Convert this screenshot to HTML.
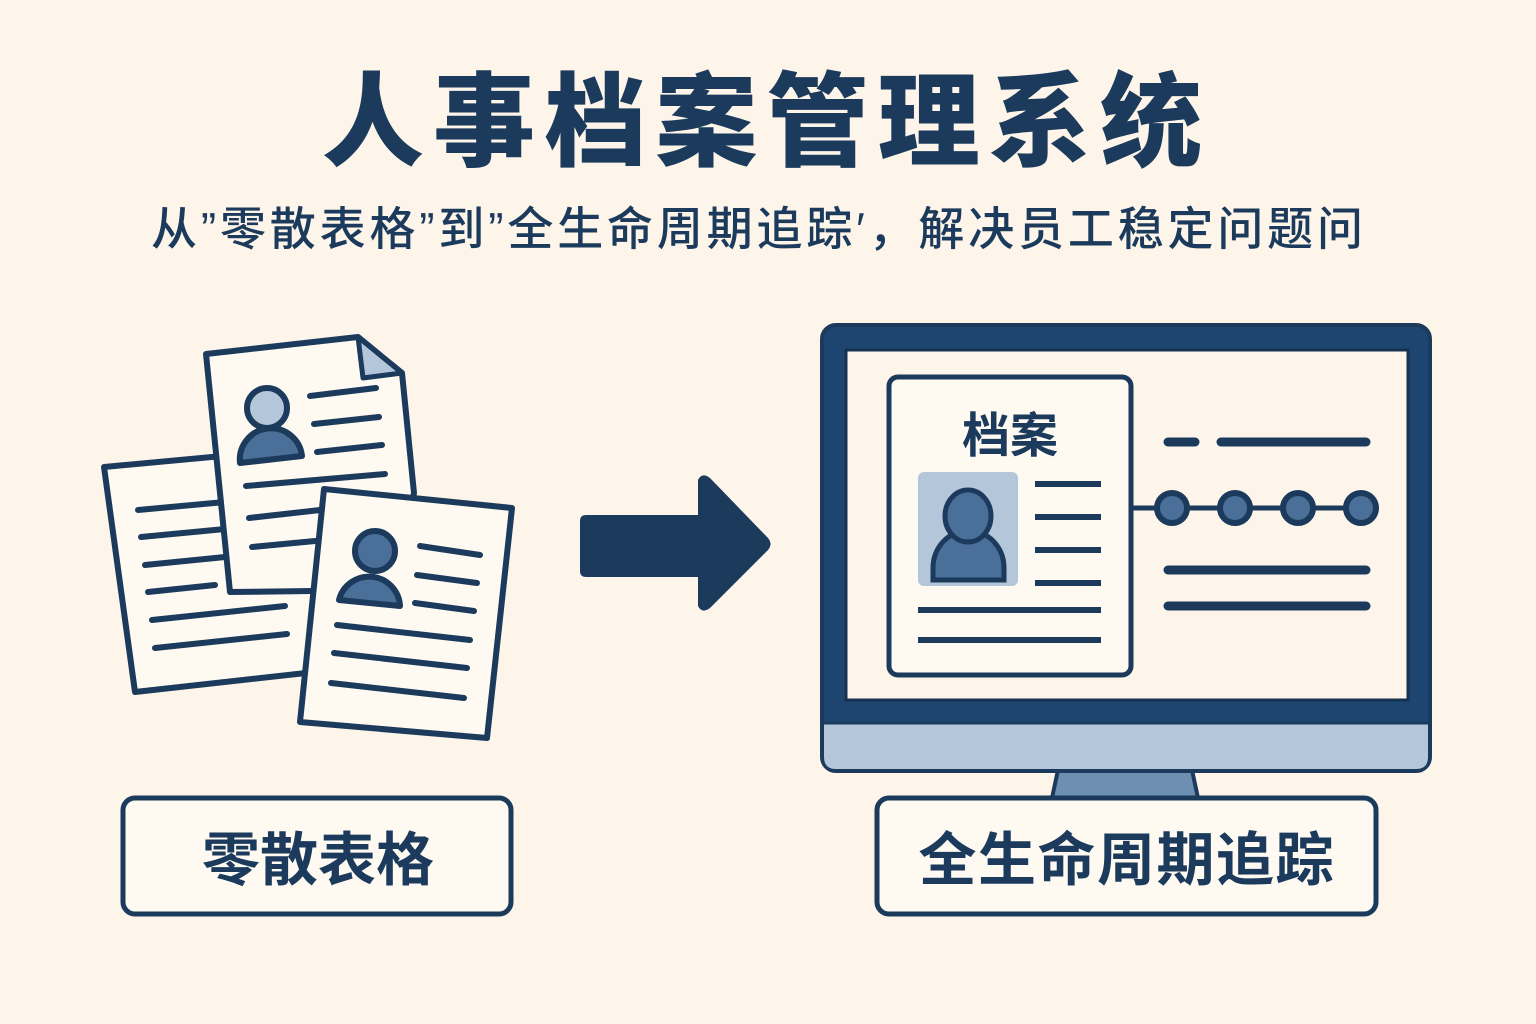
<!DOCTYPE html>
<html><head><meta charset="utf-8"><style>
html,body{margin:0;padding:0;background:#fdf5ea;}
svg{display:block;}
text{font-family:"Liberation Sans","Noto Sans CJK SC",sans-serif;fill:#1b3a5c;}
</style></head><body>
<svg width="1536" height="1024" viewBox="0 0 1536 1024" xmlns="http://www.w3.org/2000/svg">
<rect width="1536" height="1024" fill="#fdf5ea"/>
<text x="762" y="158" font-size="102" font-weight="900" text-anchor="middle" textLength="880" lengthAdjust="spacing">人事档案管理系统</text>
<text x="757" y="245" font-size="46" font-weight="500" text-anchor="middle" textLength="1212" lengthAdjust="spacing">从”零散表格”到”全生命周期追踪′，解决员工稳定问题问</text>

<g stroke="#1b3a5c" stroke-linecap="round" stroke-linejoin="round">
<polygon points="104,467 330,446 306,673 135,692" fill="#fefaf2" stroke-width="6"/>
<g stroke-width="6">
<line x1="138" y1="510" x2="225" y2="502"/><line x1="141" y1="537" x2="225" y2="529"/>
<line x1="145" y1="565" x2="225" y2="557"/><line x1="148" y1="592" x2="215" y2="585"/>
<line x1="152" y1="620" x2="285" y2="606"/><line x1="155" y1="648" x2="287" y2="634"/>
</g>
<polygon points="206,354 358,337 402,373 414,493 393,590 230,592" fill="#fefaf2" stroke-width="6"/>
<polygon points="358,337 363,378 402,373" fill="#b4c6d9" stroke-width="5"/>
<path d="M240,463 A31,31 0 0 1 302,456 Z" fill="#4a6f98" stroke-width="6"/>
<circle cx="267" cy="408" r="20" fill="#b4c6d9" stroke-width="6"/>
<g stroke-width="6">
<line x1="310" y1="396" x2="376" y2="388"/><line x1="314" y1="424" x2="379" y2="417"/>
<line x1="317" y1="452" x2="382" y2="445"/><line x1="246" y1="486" x2="385" y2="474"/>
<line x1="249" y1="518" x2="320" y2="510"/><line x1="252" y1="547" x2="315" y2="541"/>
</g>
<polygon points="324,489 512,508 487,738 300,722" fill="#fefaf2" stroke-width="6"/>
<path d="M339,600 A31,31 0 0 1 400,606 Z" fill="#4a6f98" stroke-width="6"/>
<circle cx="375" cy="551" r="20" fill="#4a6f98" stroke-width="6"/>
<g stroke-width="6">
<line x1="420" y1="546" x2="480" y2="555"/><line x1="417" y1="575" x2="477" y2="583"/>
<line x1="415" y1="603" x2="474" y2="611"/><line x1="337" y1="625" x2="470" y2="640"/>
<line x1="334" y1="653" x2="467" y2="668"/><line x1="331" y1="683" x2="464" y2="698"/>
</g>
</g>

<path d="M586,515 L698,515 L698,480 Q702,472 710,478 L768,538 Q773,544 768,550 L710,608 Q702,614 698,606 L698,577 L586,577 Q580,577 580,571 L580,521 Q580,515 586,515 Z" fill="#1b3a5c"/>

<polygon points="1058,770 1192,770 1198,798 1052,798" fill="#6d8fb2" stroke="#1b3a5c" stroke-width="4"/>
<rect x="822" y="325" width="608" height="446" rx="14" fill="#1e4570" stroke="#1b3a5c" stroke-width="4"/>
<path d="M824,724 L1428,724 L1428,757 Q1428,769 1416,769 L836,769 Q824,769 824,757 Z" fill="#b4c6d9"/>
<line x1="824" y1="723" x2="1428" y2="723" stroke="#1b3a5c" stroke-width="3"/>
<rect x="846" y="350" width="562" height="350" fill="#fdf5ea" stroke="#163250" stroke-width="3"/>
<rect x="889" y="377" width="242" height="298" rx="9" fill="#fefaf2" stroke="#1b3a5c" stroke-width="5"/>
<text x="1010" y="452" font-size="48" font-weight="700" text-anchor="middle">档案</text>
<rect x="918" y="472" width="100" height="114" rx="6" fill="#b4c6d9"/>
<path d="M933,580 L933,568 A34,36 0 0 1 1004,568 L1004,580 Z" fill="#4a6f98" stroke="#1b3a5c" stroke-width="5"/>
<ellipse cx="968" cy="516" rx="23" ry="26" fill="#4a6f98" stroke="#1b3a5c" stroke-width="5"/>
<g stroke="#1b3a5c" stroke-width="6">
<line x1="1035" y1="484" x2="1101" y2="484"/><line x1="1035" y1="517" x2="1101" y2="517"/>
<line x1="1035" y1="550" x2="1101" y2="550"/><line x1="1035" y1="583" x2="1101" y2="583"/>
<line x1="918" y1="610" x2="1101" y2="610"/><line x1="918" y1="640" x2="1101" y2="640"/>
</g>
<g stroke="#1b3a5c" stroke-width="9" stroke-linecap="round">
<line x1="1168" y1="442" x2="1195" y2="442"/><line x1="1221" y1="442" x2="1366" y2="442"/>
<line x1="1168" y1="570" x2="1366" y2="570"/><line x1="1168" y1="606" x2="1366" y2="606"/>
</g>
<line x1="1132" y1="508" x2="1360" y2="508" stroke="#1b3a5c" stroke-width="5"/>
<g fill="#4a6f98" stroke="#1b3a5c" stroke-width="6">
<circle cx="1172" cy="508" r="15"/><circle cx="1235" cy="508" r="15"/>
<circle cx="1298" cy="508" r="15"/><circle cx="1361" cy="508" r="15"/>
</g>

<rect x="123" y="798" width="388" height="116" rx="12" fill="#fefaf2" stroke="#1b3a5c" stroke-width="5"/>
<text x="318" y="880" font-size="58" font-weight="700" text-anchor="middle">零散表格</text>
<rect x="877" y="798" width="499" height="116" rx="12" fill="#fefaf2" stroke="#1b3a5c" stroke-width="5"/>
<text x="1126" y="880" font-size="58" font-weight="700" text-anchor="middle" textLength="415" lengthAdjust="spacing">全生命周期追踪</text>
</svg>
</body></html>
